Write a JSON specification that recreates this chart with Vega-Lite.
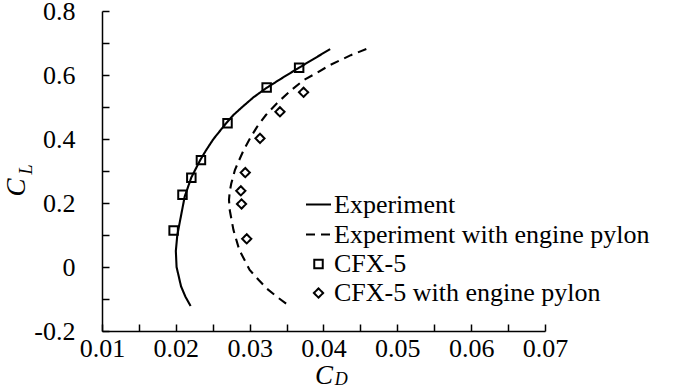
{
  "$schema": "https://vega.github.io/schema/vega-lite/v6.json",
  "width": 443,
  "height": 320,
  "autosize": {"type": "none"},
  "padding": {"left": 102, "top": 11, "right": 155, "bottom": 57},
  "background": "white",
  "config": {
    "font": "Liberation Serif",
    "view": {"stroke": null},
    "axis": {
      "grid": false,
      "domainColor": "black",
      "domainWidth": 1.5,
      "tickColor": "black",
      "tickWidth": 1.5,
      "labelFont": "Liberation Serif",
      "labelFontSize": 26,
      "labelColor": "black",
      "labelOverlap": false,
      "labelFlush": false,
      "labelBound": false,
      "titleFont": "Liberation Serif",
      "titleFontSize": 27,
      "titleFontStyle": "italic",
      "titleFontWeight": "normal",
      "titleColor": "black"
    },
    "legend": {
      "orient": "none",
      "legendX": 203,
      "legendY": 180,
      "labelFont": "Liberation Serif",
      "labelFontSize": 26,
      "labelLimit": 500,
      "labelColor": "black",
      "symbolStrokeWidth": 2,
      "symbolStrokeColor": "black",
      "rowPadding": 3,
      "labelOffset": 2,
      "padding": 0
    }
  },
  "datasets": {
    "lines": [
      {"series": "Experiment", "i": 1, "cd": 0.0409, "cl": 0.681},
      {"series": "Experiment", "i": 2, "cd": 0.0388, "cl": 0.652},
      {"series": "Experiment", "i": 3, "cd": 0.0367, "cl": 0.623},
      {"series": "Experiment", "i": 4, "cd": 0.0345, "cl": 0.592},
      {"series": "Experiment", "i": 5, "cd": 0.0323, "cl": 0.560},
      {"series": "Experiment", "i": 6, "cd": 0.0305, "cl": 0.530},
      {"series": "Experiment", "i": 7, "cd": 0.0290, "cl": 0.500},
      {"series": "Experiment", "i": 8, "cd": 0.0278, "cl": 0.475},
      {"series": "Experiment", "i": 9, "cd": 0.0268, "cl": 0.449},
      {"series": "Experiment", "i": 10, "cd": 0.0251, "cl": 0.400},
      {"series": "Experiment", "i": 11, "cd": 0.0241, "cl": 0.365},
      {"series": "Experiment", "i": 12, "cd": 0.0233, "cl": 0.334},
      {"series": "Experiment", "i": 13, "cd": 0.0221, "cl": 0.280},
      {"series": "Experiment", "i": 14, "cd": 0.0212, "cl": 0.220},
      {"series": "Experiment", "i": 15, "cd": 0.0207, "cl": 0.160},
      {"series": "Experiment", "i": 16, "cd": 0.0202, "cl": 0.100},
      {"series": "Experiment", "i": 17, "cd": 0.0200, "cl": 0.050},
      {"series": "Experiment", "i": 18, "cd": 0.0201, "cl": 0.000},
      {"series": "Experiment", "i": 19, "cd": 0.0204, "cl": -0.030},
      {"series": "Experiment", "i": 20, "cd": 0.0207, "cl": -0.060},
      {"series": "Experiment", "i": 21, "cd": 0.0213, "cl": -0.093},
      {"series": "Experiment", "i": 22, "cd": 0.0220, "cl": -0.122},
      {"series": "Experiment with engine pylon", "i": 1, "cd": 0.0458, "cl": 0.681},
      {"series": "Experiment with engine pylon", "i": 2, "cd": 0.0437, "cl": 0.662},
      {"series": "Experiment with engine pylon", "i": 3, "cd": 0.0408, "cl": 0.630},
      {"series": "Experiment with engine pylon", "i": 4, "cd": 0.0389, "cl": 0.604},
      {"series": "Experiment with engine pylon", "i": 5, "cd": 0.0373, "cl": 0.584},
      {"series": "Experiment with engine pylon", "i": 6, "cd": 0.0355, "cl": 0.550},
      {"series": "Experiment with engine pylon", "i": 7, "cd": 0.0337, "cl": 0.512},
      {"series": "Experiment with engine pylon", "i": 8, "cd": 0.0322, "cl": 0.475},
      {"series": "Experiment with engine pylon", "i": 9, "cd": 0.0310, "cl": 0.438},
      {"series": "Experiment with engine pylon", "i": 10, "cd": 0.0300, "cl": 0.400},
      {"series": "Experiment with engine pylon", "i": 11, "cd": 0.0292, "cl": 0.366},
      {"series": "Experiment with engine pylon", "i": 12, "cd": 0.0285, "cl": 0.330},
      {"series": "Experiment with engine pylon", "i": 13, "cd": 0.0280, "cl": 0.303},
      {"series": "Experiment with engine pylon", "i": 14, "cd": 0.0275, "cl": 0.260},
      {"series": "Experiment with engine pylon", "i": 15, "cd": 0.0273, "cl": 0.235},
      {"series": "Experiment with engine pylon", "i": 16, "cd": 0.0272, "cl": 0.210},
      {"series": "Experiment with engine pylon", "i": 17, "cd": 0.0273, "cl": 0.178},
      {"series": "Experiment with engine pylon", "i": 18, "cd": 0.0278, "cl": 0.116},
      {"series": "Experiment with engine pylon", "i": 19, "cd": 0.0286, "cl": 0.053},
      {"series": "Experiment with engine pylon", "i": 20, "cd": 0.0300, "cl": -0.009},
      {"series": "Experiment with engine pylon", "i": 21, "cd": 0.0312, "cl": -0.040},
      {"series": "Experiment with engine pylon", "i": 22, "cd": 0.0323, "cl": -0.067},
      {"series": "Experiment with engine pylon", "i": 23, "cd": 0.0338, "cl": -0.095},
      {"series": "Experiment with engine pylon", "i": 24, "cd": 0.0354, "cl": -0.122}
    ],
    "points": [
      {"series": "CFX-5", "cd": 0.0367, "cl": 0.623},
      {"series": "CFX-5", "cd": 0.0323, "cl": 0.561},
      {"series": "CFX-5", "cd": 0.0270, "cl": 0.449},
      {"series": "CFX-5", "cd": 0.0234, "cl": 0.334},
      {"series": "CFX-5", "cd": 0.0221, "cl": 0.279},
      {"series": "CFX-5", "cd": 0.0209, "cl": 0.226},
      {"series": "CFX-5", "cd": 0.0197, "cl": 0.114},
      {"series": "CFX-5 with engine pylon", "cd": 0.0373, "cl": 0.546},
      {"series": "CFX-5 with engine pylon", "cd": 0.0341, "cl": 0.485},
      {"series": "CFX-5 with engine pylon", "cd": 0.0314, "cl": 0.402},
      {"series": "CFX-5 with engine pylon", "cd": 0.0294, "cl": 0.295},
      {"series": "CFX-5 with engine pylon", "cd": 0.0288, "cl": 0.238},
      {"series": "CFX-5 with engine pylon", "cd": 0.0289, "cl": 0.197},
      {"series": "CFX-5 with engine pylon", "cd": 0.0296, "cl": 0.088}
    ],
    "subx": [{"sub": "D", "cd": 0.0424, "cl": -0.353}],
    "suby": [{"sub": "L", "cd": -0.0002, "cl": 0.305}]
  },
  "encoding": {
    "x": {
      "field": "cd",
      "type": "quantitative",
      "scale": {"domain": [0.01, 0.07], "nice": false, "zero": false},
      "axis": {
        "title": "C",
        "titleY": 52,
        "titleBaseline": "alphabetic",
        "values": [0.01, 0.015, 0.02, 0.025, 0.03, 0.035, 0.04, 0.045, 0.05, 0.055, 0.06, 0.065, 0.07],
        "labelExpr": "round(datum.value*1000) % 10 == 0 ? format(datum.value, '.2f') : ''",
        "tickSize": -7,
        "labelPadding": 11
      }
    },
    "y": {
      "field": "cl",
      "type": "quantitative",
      "scale": {"domain": [-0.2, 0.8], "nice": false, "zero": false},
      "axis": {
        "title": "C",
        "titleX": -86,
        "titleY": 176,
        "titleAngle": 270,
        "titleAlign": "center",
        "titleBaseline": "middle",
        "values": [-0.2, -0.1, 0, 0.1, 0.2, 0.3, 0.4, 0.5, 0.6, 0.7, 0.8],
        "labelExpr": "abs(round(datum.value*10)) % 2 == 0 ? (datum.value < 0 ? '-' : '') + format(abs(datum.value), '.1~f') : ''",
        "tickSize": -7,
        "labelPadding": 34
      }
    }
  },
  "layer": [
    {
      "data": {"name": "lines"},
      "mark": {"type": "line", "color": "black", "strokeWidth": 2.1},
      "encoding": {
        "order": {"field": "i", "type": "quantitative"},
        "strokeDash": {
          "field": "series",
          "type": "nominal",
          "scale": {
            "domain": ["Experiment", "Experiment with engine pylon", "CFX-5", "CFX-5 with engine pylon"],
            "range": [[1, 0], [9, 6], [1, 0], [1, 0]]
          },
          "legend": {"title": null}
        }
      }
    },
    {
      "data": {"name": "points"},
      "mark": {"type": "point", "filled": false, "color": "black", "strokeWidth": 2, "opacity": 1},
      "encoding": {
        "shape": {
          "field": "series",
          "type": "nominal",
          "scale": {
            "domain": ["Experiment", "Experiment with engine pylon", "CFX-5", "CFX-5 with engine pylon"],
            "range": ["stroke", "stroke", "square", "diamond"]
          },
          "legend": {"title": null}
        },
        "size": {
          "field": "series",
          "type": "nominal",
          "scale": {
            "type": "ordinal",
            "domain": ["Experiment", "Experiment with engine pylon", "CFX-5", "CFX-5 with engine pylon"],
            "range": [625, 625, 72, 85]
          },
          "legend": {"title": null}
        },
        "strokeDash": {"field": "series", "type": "nominal", "legend": {"title": null}}
      }
    },
    {
      "data": {"name": "subx"},
      "mark": {"type": "text", "font": "Liberation Serif", "fontSize": 18, "fontStyle": "italic", "baseline": "middle", "align": "center", "color": "black"},
      "encoding": {
        "text": {"field": "sub"}
      }
    },
    {
      "data": {"name": "suby"},
      "mark": {"type": "text", "font": "Liberation Serif", "fontSize": 18, "fontStyle": "italic", "baseline": "middle", "align": "center", "angle": 270, "color": "black"},
      "encoding": {
        "text": {"field": "sub"}
      }
    }
  ]
}
